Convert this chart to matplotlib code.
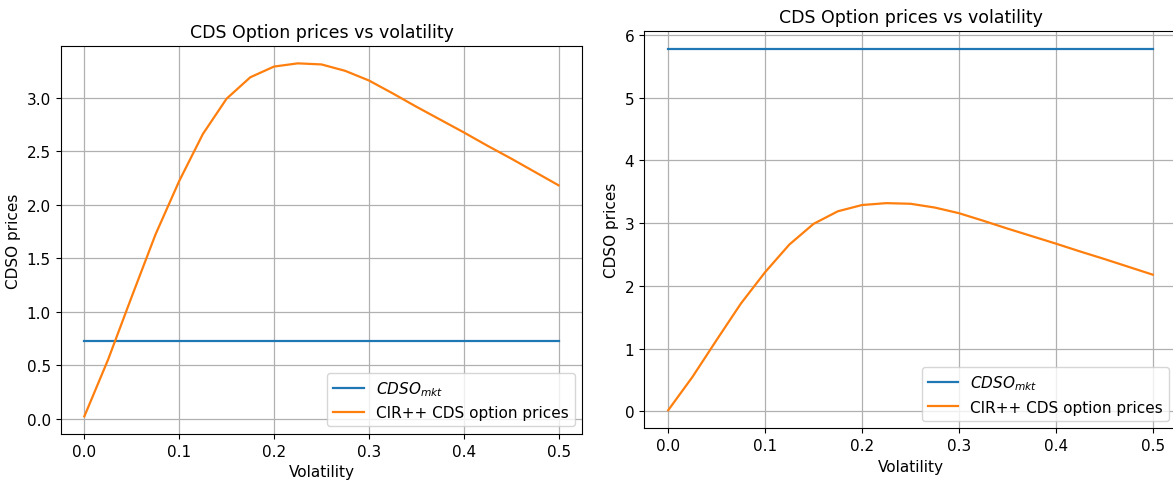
import matplotlib
matplotlib.use("Agg")
import matplotlib.pyplot as plt
import numpy as np

volatility = [0.0, 0.025, 0.05, 0.075, 0.1, 0.125, 0.15, 0.175, 0.2, 0.225, 0.25,
              0.275, 0.3, 0.325, 0.35, 0.375, 0.4, 0.425, 0.45, 0.475, 0.5]
cir_prices = [0.02, 0.55, 1.14, 1.72, 2.22, 2.66, 2.99, 3.19, 3.29, 3.32, 3.31,
              3.25, 3.16, 3.04, 2.915, 2.795, 2.675, 2.55, 2.43, 2.305, 2.18]
mkt_left = 0.725
mkt_right = 5.78

plt.rcParams['font.family'] = ['DejaVu Sans']
plt.rcParams['font.size'] = 11

fig = plt.figure(figsize=(11.73, 4.81), dpi=100)
ax1 = fig.add_axes([0.0517, 0.0956, 0.4447, 0.8073])
ax2 = fig.add_axes([0.549, 0.1075, 0.4544, 0.8266])

for ax, mkt in ((ax1, mkt_left), (ax2, mkt_right)):
    ax.plot(volatility, [mkt] * len(volatility), color='#1f77b4', lw=1.6, label='$CDSO_{mkt}$')
    ax.plot(volatility, cir_prices, color='#ff7f0e', lw=1.6, label='CIR++ CDS option prices')
    ax.grid(True, color='#b0b0b0', lw=0.9)
    ax.set_title('CDS Option prices vs volatility', fontsize=12.5)
    ax.set_xlabel('Volatility')
    ax.set_ylabel('CDSO prices')
    ax.legend(loc='lower right')

ax1.set_yticks([0.0, 0.5, 1.0, 1.5, 2.0, 2.5, 3.0])
ax2.set_yticks([0, 1, 2, 3, 4, 5, 6])

fig.savefig('out.png', dpi=100)
